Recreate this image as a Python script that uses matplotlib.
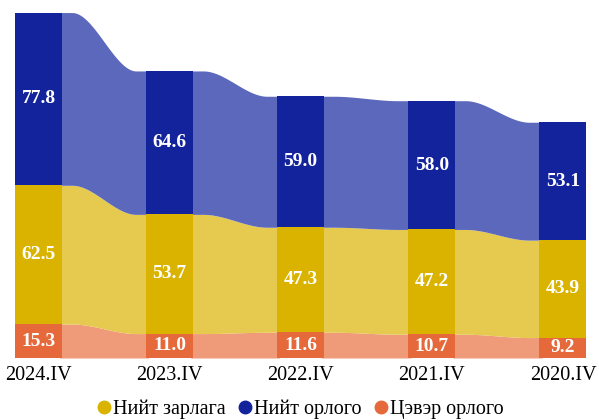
import numpy as np
import matplotlib.pyplot as plt
from matplotlib.lines import Line2D

# --- DATA ---
categories = ['2024.IV', '2023.IV', '2022.IV', '2021.IV', '2020.IV']
net_income = [15.3, 11.0, 11.6, 10.7, 9.2]      # Цэвэр орлого
total_expense = [62.5, 53.7, 47.3, 47.2, 43.9]  # Нийт зарлага
total_income = [77.8, 64.6, 59.0, 58.0, 53.1]   # Нийт орлого

series = [
    ('Цэвэр орлого', net_income, '#e5693a', '#ef9a78'),
    ('Нийт зарлага', total_expense, '#d9b300', '#e6c94f'),
    ('Нийт орлого', total_income, '#13239c', '#5b68bb'),
]

plt.rcParams['font.family'] = ['Liberation Serif', 'DejaVu Serif']

fig = plt.figure(figsize=(5.99, 4.2), dpi=100)
ax = fig.add_axes([0, 62 / 420, 1, 358 / 420])

x = np.arange(len(categories))
w = 0.36


def smooth(t):
    # flat ends, S-shaped middle
    t = np.clip((t - 0.12) / 0.76, 0, 1)
    return t * t * (3 - 2 * t)


bottom = np.zeros(len(categories))
for name, vals, bar_col, rib_col in series:
    vals = np.array(vals)
    top = bottom + vals
    ax.bar(x, vals, w, bottom=bottom, color=bar_col, lw=0, zorder=3)
    # ribbons between neighbouring bars (slightly tucked under the bars)
    for i in range(len(x) - 1):
        x0, x1 = x[i] + w / 2, x[i + 1] - w / 2
        xs = np.linspace(x0 - 0.02, x1 + 0.02, 80)
        t = np.clip((xs - x0) / (x1 - x0), 0, 1)
        s = smooth(t)
        lo = bottom[i] + (bottom[i + 1] - bottom[i]) * s
        hi = top[i] + (top[i + 1] - top[i]) * s
        ax.fill_between(xs, lo, hi, color=rib_col, lw=0, zorder=2)
    for i in range(len(x)):
        ax.text(x[i], bottom[i] + vals[i] / 2, f'{vals[i]:.1f}', ha='center', va='center',
                color='white', fontsize=14, fontweight='bold', zorder=4)
    bottom = top

ax.set_xlim(-38.5 / 131.1, (599 - 38.5) / 131.1)
ax.set_ylim(0, 358 / 2.22)
ax.set_xticks(x)
ax.set_xticklabels(categories, fontsize=14.5)
ax.tick_params(axis='x', length=0, pad=6)
ax.set_yticks([])
for s in ax.spines.values():
    s.set_visible(False)

handles = [
    Line2D([], [], marker='o', ls='', color='#d9b300', markersize=9, label='Нийт зарлага'),
    Line2D([], [], marker='o', ls='', color='#13239c', markersize=9, label='Нийт орлого'),
    Line2D([], [], marker='o', ls='', color='#e5693a', markersize=9, label='Цэвэр орлого'),
]
fig.legend(handles=handles, loc='center', bbox_to_anchor=(0.5, 11 / 420), ncol=3,
           frameon=False, fontsize=14.5, handletextpad=0.0, columnspacing=0.5,
           handlelength=0.9, borderaxespad=0)

fig.savefig('out.png', dpi=100)
